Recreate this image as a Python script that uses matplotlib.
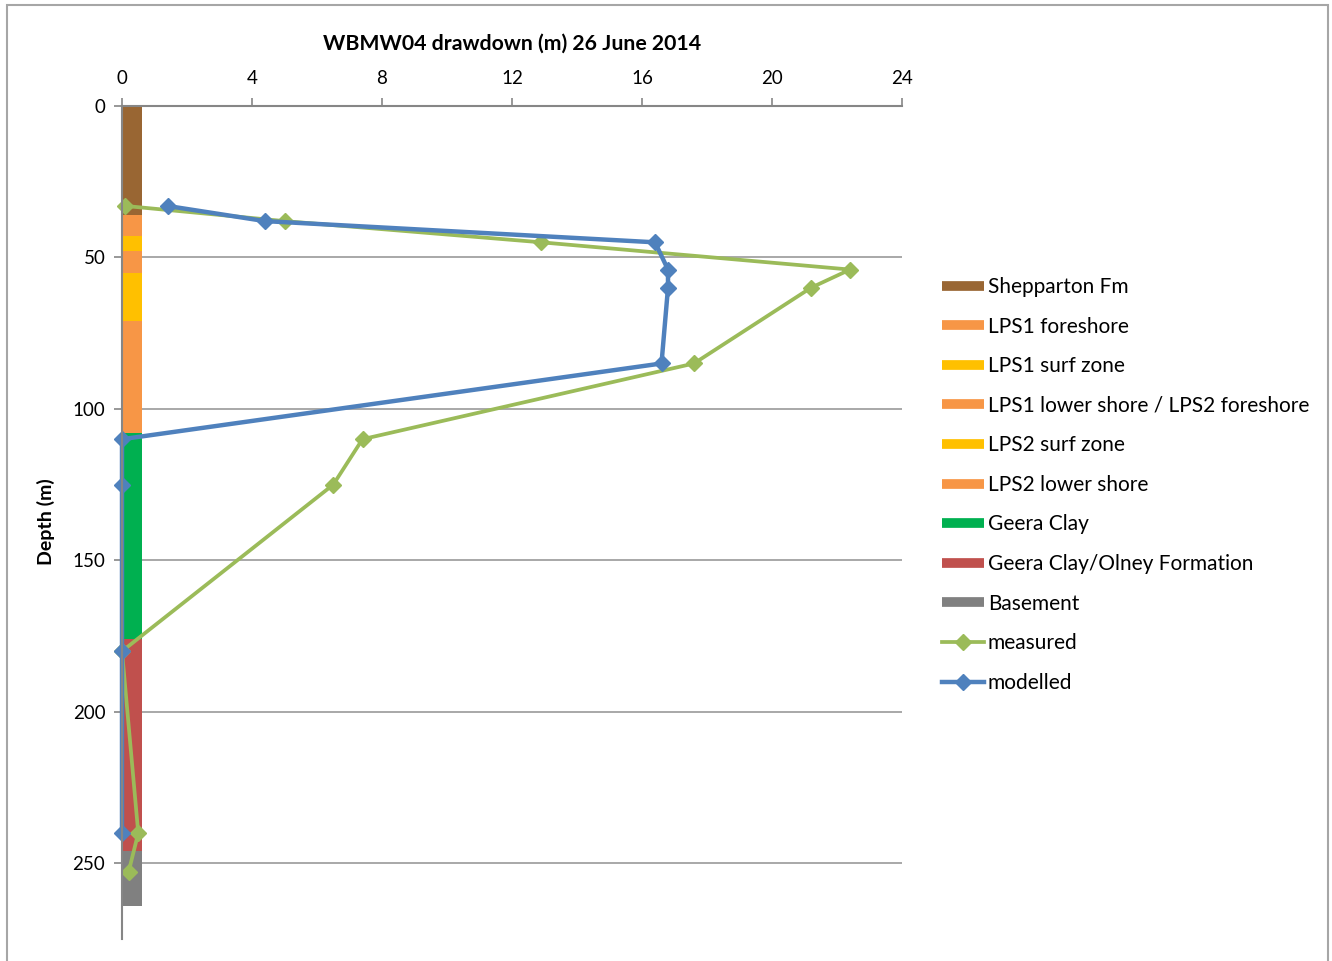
import numpy as np
import matplotlib.pyplot as plt
from matplotlib.lines import Line2D
from matplotlib.patches import Rectangle

plt.rcParams['font.family'] = ['Lato', 'DejaVu Sans']

# lithology column (depth intervals, m)
layer_names = ['Shepparton Fm', 'LPS1 foreshore', 'LPS1 surf zone',
               'LPS1 lower shore / LPS2 foreshore', 'LPS2 surf zone',
               'LPS2 lower shore', 'Geera Clay', 'Geera Clay/Olney Formation',
               'Basement']
layer_thickness = [36, 7, 5, 7, 16, 37, 68, 70, 18]
layer_colors = ['#996633', '#F79646', '#FFC000', '#F79646', '#FFC000',
                '#F79646', '#00B050', '#C0504D', '#808080']

# drawdown profiles
meas_depth = [33, 38, 45, 54, 60, 85, 110, 125, 180, 240, 253]
meas_drawdown = [0.1, 5.0, 12.9, 22.4, 21.2, 17.6, 7.4, 6.5, 0.0, 0.5, 0.2]
mod_depth = [33, 38, 45, 54, 60, 85, 110, 125, 180, 240]
mod_drawdown = [1.4, 4.4, 16.4, 16.8, 16.8, 16.6, 0.0, 0.0, 0.0, 0.0]

x_ticks = [0, 4, 8, 12, 16, 20, 24]
y_ticks = [0, 50, 100, 150, 200, 250]

green = '#9BBB59'
blue = '#4F81BD'

fig = plt.figure(figsize=(13.32, 9.61), dpi=100)
ax = fig.add_axes([122 / 1332, 1 - 939 / 961, 780 / 1332, 833 / 961])

# outer chart border
fig.patches.append(Rectangle((7 / 1332, -0.1), 1321 / 1332, 1.1 - 5 / 961,
                             transform=fig.transFigure, fill=False,
                             edgecolor='#a6a6a6', lw=1.5))

# lithology strip
tops = np.concatenate([[0], np.cumsum(layer_thickness)[:-1]])
ax.bar(0, layer_thickness, bottom=tops, width=0.6, align='edge',
       color=layer_colors, zorder=2)

ax.plot(meas_drawdown, meas_depth, color=green, lw=2.7, marker='D',
        markersize=8.5, zorder=3, clip_on=False)
ax.plot(mod_drawdown, mod_depth, color=blue, lw=3.2, marker='D',
        markersize=8.5, zorder=4, clip_on=False)

ax.set_xlim(0, 24)
ax.set_ylim(275, 0)
ax.set_xticks(x_ticks)
ax.set_yticks(y_ticks)
ax.xaxis.tick_top()
ax.tick_params(axis='both', colors='#868686', labelcolor='black',
               labelsize=13.5, length=6, width=1.2, direction='out')
ax.tick_params(axis='x', pad=8)
ax.tick_params(axis='y', pad=6)
ax.grid(axis='y', color='#9a9a9a', lw=1.2, zorder=1)
ax.set_axisbelow(True)
for side in ['right', 'bottom']:
    ax.spines[side].set_visible(False)
for side in ['top', 'left']:
    ax.spines[side].set_color('#868686')
    ax.spines[side].set_linewidth(1.5)
    ax.spines[side].set_zorder(5)

fig.text(512 / 1332, 1 - 44 / 961, 'WBMW04 drawdown (m) 26 June 2014',
         ha='center', va='center', fontsize=15.3, fontweight='bold')
fig.text(46 / 1332, 1 - 522 / 961, 'Depth (m)', rotation=90,
         ha='center', va='center', fontsize=14, fontweight='bold')

handles = [Line2D([], [], color=c, lw=7, solid_capstyle='butt')
           for c in layer_colors]
handles += [Line2D([], [], color=green, lw=2.7, marker='D', markersize=8.5),
            Line2D([], [], color=blue, lw=3.2, marker='D', markersize=8.5)]
labels = layer_names + ['measured', 'modelled']
fig.legend(handles, labels, loc='upper left',
           bbox_to_anchor=(942 / 1332, 1 - 277 / 961), frameon=False,
           fontsize=15, handlelength=2.0, handletextpad=0.2,
           labelspacing=0.94, borderaxespad=0, borderpad=0)

fig.savefig('out.png', dpi=100)
